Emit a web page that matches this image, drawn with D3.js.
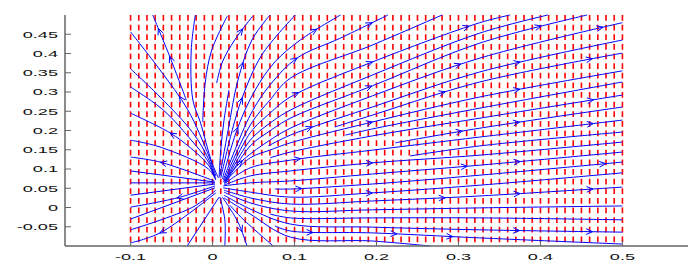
<!DOCTYPE html>
<html>
<head>
<meta charset="utf-8">
<script src="https://cdn.jsdelivr.net/npm/d3@7"></script>
<style>
  body { margin: 0; background: #fff; }
  text { font-family: "Liberation Sans", Arial, sans-serif; }
</style>
</head>
<body>
<div id="chart"></div>
<script>
// tick values and labels
const xTicks = [-0.1, 0, 0.1, 0.2, 0.3, 0.4, 0.5];
const xTickLabels = ["-0.1", "0", "0.1", "0.2", "0.3", "0.4", "0.5"];
const yTicks = [-0.05, 0, 0.05, 0.1, 0.15, 0.2, 0.25, 0.3, 0.35, 0.4, 0.45];
const yTickLabels = ["-0.05", "0", "0.05", "0.1", "0.15", "0.2", "0.25", "0.3", "0.35", "0.4", "0.45"];

// columns of the red dashed field
const dashCols = [-0.1, -0.09, -0.08, -0.07, -0.06, -0.05, -0.04, -0.03, -0.02, -0.01,
  0, 0.01, 0.02, 0.03, 0.04, 0.05, 0.06, 0.07, 0.08, 0.09,
  0.1, 0.11, 0.12, 0.13, 0.14, 0.15, 0.16, 0.17, 0.18, 0.19,
  0.2, 0.21, 0.22, 0.23, 0.24, 0.25, 0.26, 0.27, 0.28, 0.29,
  0.3, 0.31, 0.32, 0.33, 0.34, 0.35, 0.36, 0.37, 0.38, 0.39,
  0.4, 0.41, 0.42, 0.43, 0.44, 0.45, 0.46, 0.47, 0.48, 0.49, 0.5];

// streamlines, each drawn from the inner end outwards
const leftLines = [
  [[-0.032, 0.279], [-0.052, 0.391], [-0.073, 0.5]],
  [[0.004, 0.082], [-0.005, 0.136], [-0.030, 0.253], [-0.064, 0.357], [-0.1, 0.456]],
  [[0.003, 0.079], [-0.005, 0.126], [-0.024, 0.194], [-0.064, 0.287], [-0.1, 0.360]],
  [[0.003, 0.077], [-0.005, 0.118], [-0.026, 0.175], [-0.060, 0.253], [-0.1, 0.313]],
  [[0.004, 0.074], [-0.005, 0.110], [-0.027, 0.155], [-0.052, 0.194], [-0.1, 0.245]],
  [[0.004, 0.071], [-0.005, 0.100], [-0.064, 0.157], [-0.1, 0.175]],
  [[0.002, 0.069], [-0.064, 0.118], [-0.1, 0.131]],
  [[0.003, 0.066], [-0.1, 0.095]],
  [[0.003, 0.064], [-0.1, 0.064]],
  [[0.003, 0.061], [-0.1, 0.032]],
  [[0.003, 0.056], [-0.043, 0.025], [-0.1, 0.001]],
  [[0.003, 0.051], [-0.1, -0.030]],
  [[0.004, 0.045], [-0.024, 0.001], [-0.1, -0.058]],
  [[0.004, 0.038], [-0.064, -0.066], [-0.1, -0.092]],
  [[0.008, 0.027], [-0.031, -0.1]]
];

const centerLines = [
  [[0.007, 0.077], [-0.001, 0.118], [-0.015, 0.222], [-0.024, 0.279], [-0.026, 0.409], [-0.021, 0.5]],
  [[-0.012, 0.222], [-0.009, 0.323], [-0.001, 0.409], [0.018, 0.497]],
  [[0.005, 0.323], [0.012, 0.378], [0.027, 0.435], [0.049, 0.497]],
  [[0.008, 0.077], [0.010, 0.149], [0.014, 0.227], [0.020, 0.305]],
  [[0.009, 0.082], [0.019, 0.201], [0.031, 0.331], [0.048, 0.435], [0.070, 0.5]],
  [[0.010, 0.077], [0.024, 0.201], [0.036, 0.284], [0.060, 0.396], [0.101, 0.5]]
];

const rightLines = [
  [[0.012, 0.074], [0.031, 0.209], [0.052, 0.305], [0.076, 0.378], [0.107, 0.435], [0.156, 0.5]],
  [[0.013, 0.071], [0.046, 0.240], [0.070, 0.318], [0.103, 0.388], [0.156, 0.440], [0.214, 0.5]],
  [[0.014, 0.069], [0.046, 0.214], [0.070, 0.279], [0.095, 0.336], [0.195, 0.422], [0.280, 0.5]],
  [[0.015, 0.066], [0.046, 0.194], [0.070, 0.245], [0.095, 0.287], [0.195, 0.378], [0.326, 0.480], [0.363, 0.5]],
  [[0.015, 0.064], [0.046, 0.175], [0.070, 0.219], [0.095, 0.253], [0.195, 0.344], [0.326, 0.453], [0.409, 0.5]],
  [[0.016, 0.064], [0.046, 0.160], [0.070, 0.199], [0.095, 0.232], [0.195, 0.316], [0.326, 0.427], [0.457, 0.5]],
  [[0.013, 0.066], [0.037, 0.123], [0.070, 0.175], [0.095, 0.206], [0.195, 0.290], [0.326, 0.388], [0.5, 0.480]],
  [[0.068, 0.160], [0.095, 0.188], [0.195, 0.261], [0.326, 0.352], [0.5, 0.435]],
  [[0.149, 0.209], [0.195, 0.240], [0.326, 0.326], [0.5, 0.401]],
  [[0.014, 0.064], [0.046, 0.129], [0.070, 0.149], [0.095, 0.168], [0.195, 0.222], [0.326, 0.287], [0.5, 0.355]],
  [[0.162, 0.188], [0.195, 0.204], [0.326, 0.258], [0.5, 0.326]],
  [[0.070, 0.129], [0.095, 0.144], [0.195, 0.186], [0.326, 0.232], [0.5, 0.292]],
  [[0.223, 0.168], [0.326, 0.206], [0.5, 0.261]],
  [[0.014, 0.061], [0.046, 0.103], [0.095, 0.123], [0.195, 0.149], [0.326, 0.183], [0.5, 0.227]],
  [[0.241, 0.134], [0.326, 0.160], [0.5, 0.196]],
  [[0.014, 0.058], [0.046, 0.082], [0.095, 0.095], [0.195, 0.116], [0.326, 0.136], [0.5, 0.170]],
  [[0.013, 0.056], [0.046, 0.064], [0.095, 0.069], [0.195, 0.087], [0.326, 0.110], [0.5, 0.144]],
  [[0.076, 0.048], [0.095, 0.048], [0.195, 0.061], [0.326, 0.084], [0.5, 0.118]],
  [[0.013, 0.051], [0.046, 0.040], [0.095, 0.027], [0.195, 0.038], [0.326, 0.058], [0.5, 0.090]],
  [[0.014, 0.045], [0.046, 0.025], [0.095, 0.009], [0.195, 0.017], [0.326, 0.030], [0.5, 0.053]],
  [[0.014, 0.040], [0.046, 0.012], [0.095, -0.009], [0.195, -0.006], [0.326, -0.001], [0.5, 0.004]],
  [[0.070, -0.017], [0.095, -0.027], [0.195, -0.027], [0.326, -0.027], [0.5, -0.032]],
  [[0.014, 0.032], [0.046, -0.004], [0.095, -0.043], [0.195, -0.051], [0.326, -0.058], [0.5, -0.064]],
  [[0.076, -0.048], [0.095, -0.061], [0.195, -0.066], [0.326, -0.079], [0.5, -0.095]],
  [[0.014, 0.025], [0.046, -0.017], [0.095, -0.077], [0.195, -0.087], [0.265, -0.1]]
];

const bottomLines = [
  [[0.009, 0.027], [0.015, -0.032], [0.015, -0.1]],
  [[0.012, 0.027], [0.031, -0.038], [0.042, -0.1]],
  [[0.021, 0.006], [0.037, -0.030], [0.074, -0.1]]
];

// where the little arrow heads sit (snapped onto the nearest streamline)
const arrowSpots = [
  [-0.066, 0.466], [-0.054, 0.391], [-0.043, 0.287], [0.036, 0.466], [0.036, 0.378],
  [0.036, 0.284], [0.031, 0.209], [0.037, 0.123], [-0.052, 0.194], [-0.064, 0.118],
  [-0.043, 0.025], [-0.064, -0.066], [0.034, -0.064],
  [0.127, 0.466], [0.195, 0.480], [0.314, 0.468], [0.402, 0.466], [0.476, 0.468],
  [0.103, 0.388], [0.195, 0.383], [0.302, 0.375], [0.375, 0.378], [0.464, 0.386],
  [0.104, 0.305], [0.195, 0.313], [0.284, 0.303], [0.375, 0.303], [0.464, 0.290],
  [0.121, 0.212], [0.195, 0.222], [0.305, 0.196], [0.375, 0.219], [0.464, 0.217],
  [0.107, 0.129], [0.195, 0.118], [0.311, 0.110], [0.375, 0.118], [0.479, 0.126],
  [0.109, 0.038], [0.195, 0.032], [0.284, 0.038], [0.375, 0.040], [0.464, 0.051],
  [0.123, -0.066], [0.225, -0.066], [0.293, -0.069], [0.375, -0.056], [0.464, -0.064]
];

const width = 696, height = 269;

const svg = d3.select("#chart").append("svg")
  .attr("width", width)
  .attr("height", height);

const x = d3.scaleLinear().domain([-0.18, 0.58]).range([65, 688]);
const y = d3.scaleLinear().domain([-0.1, 0.5]).range([246, 15]);

// red dashed columns
svg.append("g").selectAll("line").data(dashCols).enter().append("line")
  .attr("x1", d => x(d)).attr("x2", d => x(d))
  .attr("y1", y(0.5)).attr("y2", y(-0.1))
  .attr("stroke", "#ff0000")
  .attr("stroke-width", 1.6)
  .attr("stroke-dasharray", "5.8,3.825");

// streamlines
const allLines = leftLines.concat(centerLines, rightLines, bottomLines);
const line = d3.line()
  .x(d => x(d[0]))
  .y(d => y(d[1]))
  .curve(d3.curveCatmullRom.alpha(0.5));

const paths = svg.append("g").selectAll("path").data(allLines).enter().append("path")
  .attr("d", line)
  .attr("fill", "none")
  .attr("stroke", "#0000ff")
  .attr("stroke-width", 1);

// arrow heads
let samples = [];
paths.each(function() {
  let L = this.getTotalLength();
  for (let s = 0; s <= L; s += 1) {
    samples.push({el: this, s: s, p: this.getPointAtLength(s)});
  }
});

let arrowG = svg.append("g");
arrowSpots.forEach(function(a) {
  let ax = x(a[0]), ay = y(a[1]);
  let best = null, bd = Infinity;
  samples.forEach(function(o) {
    let dd = (o.p.x - ax) * (o.p.x - ax) + (o.p.y - ay) * (o.p.y - ay);
    if (dd < bd) { bd = dd; best = o; }
  });
  let L = best.el.getTotalLength();
  let p0 = best.el.getPointAtLength(Math.max(0, best.s - 2));
  let p1 = best.el.getPointAtLength(Math.min(L, best.s + 2));
  let ang = Math.atan2(p1.y - p0.y, p1.x - p0.x);
  let t = best.p, len = 7, spread = 0.42;
  let b1 = [t.x - len * Math.cos(ang - spread), t.y - len * Math.sin(ang - spread)];
  let b2 = [t.x - len * Math.cos(ang + spread), t.y - len * Math.sin(ang + spread)];
  arrowG.append("path")
    .attr("d", "M" + b1[0] + "," + b1[1] + "L" + t.x + "," + t.y + "L" + b2[0] + "," + b2[1])
    .attr("fill", "none")
    .attr("stroke", "#0000ff")
    .attr("stroke-width", 1);
});

// axes
const axisColor = "#666";
svg.append("line")
  .attr("x1", 65).attr("x2", 65).attr("y1", y(0.5)).attr("y2", y(-0.1))
  .attr("stroke", axisColor).attr("stroke-width", 1.5);
svg.append("line")
  .attr("x1", 65).attr("x2", 688).attr("y1", y(-0.1)).attr("y2", y(-0.1))
  .attr("stroke", axisColor).attr("stroke-width", 1.5);

svg.append("g").selectAll("line").data(yTicks).enter().append("line")
  .attr("x1", 65).attr("x2", 71)
  .attr("y1", d => y(d)).attr("y2", d => y(d))
  .attr("stroke", axisColor).attr("stroke-width", 1);

svg.append("g").selectAll("line").data(xTicks).enter().append("line")
  .attr("x1", d => x(d)).attr("x2", d => x(d))
  .attr("y1", y(-0.1)).attr("y2", y(-0.1) - 5)
  .attr("stroke", axisColor).attr("stroke-width", 1);

svg.append("g").selectAll("text").data(yTicks).enter().append("text")
  .attr("transform", d => "translate(58," + (y(d) + 3.4) + ") scale(1.85,1)")
  .attr("text-anchor", "end")
  .attr("font-size", 9.8)
  .attr("fill", "#111")
  .text((d, i) => yTickLabels[i]);

svg.append("g").selectAll("text").data(xTicks).enter().append("text")
  .attr("transform", d => "translate(" + x(d) + ",259.5) scale(1.85,1)")
  .attr("text-anchor", "middle")
  .attr("font-size", 9.8)
  .attr("fill", "#111")
  .text((d, i) => xTickLabels[i]);
</script>
</body>
</html>
